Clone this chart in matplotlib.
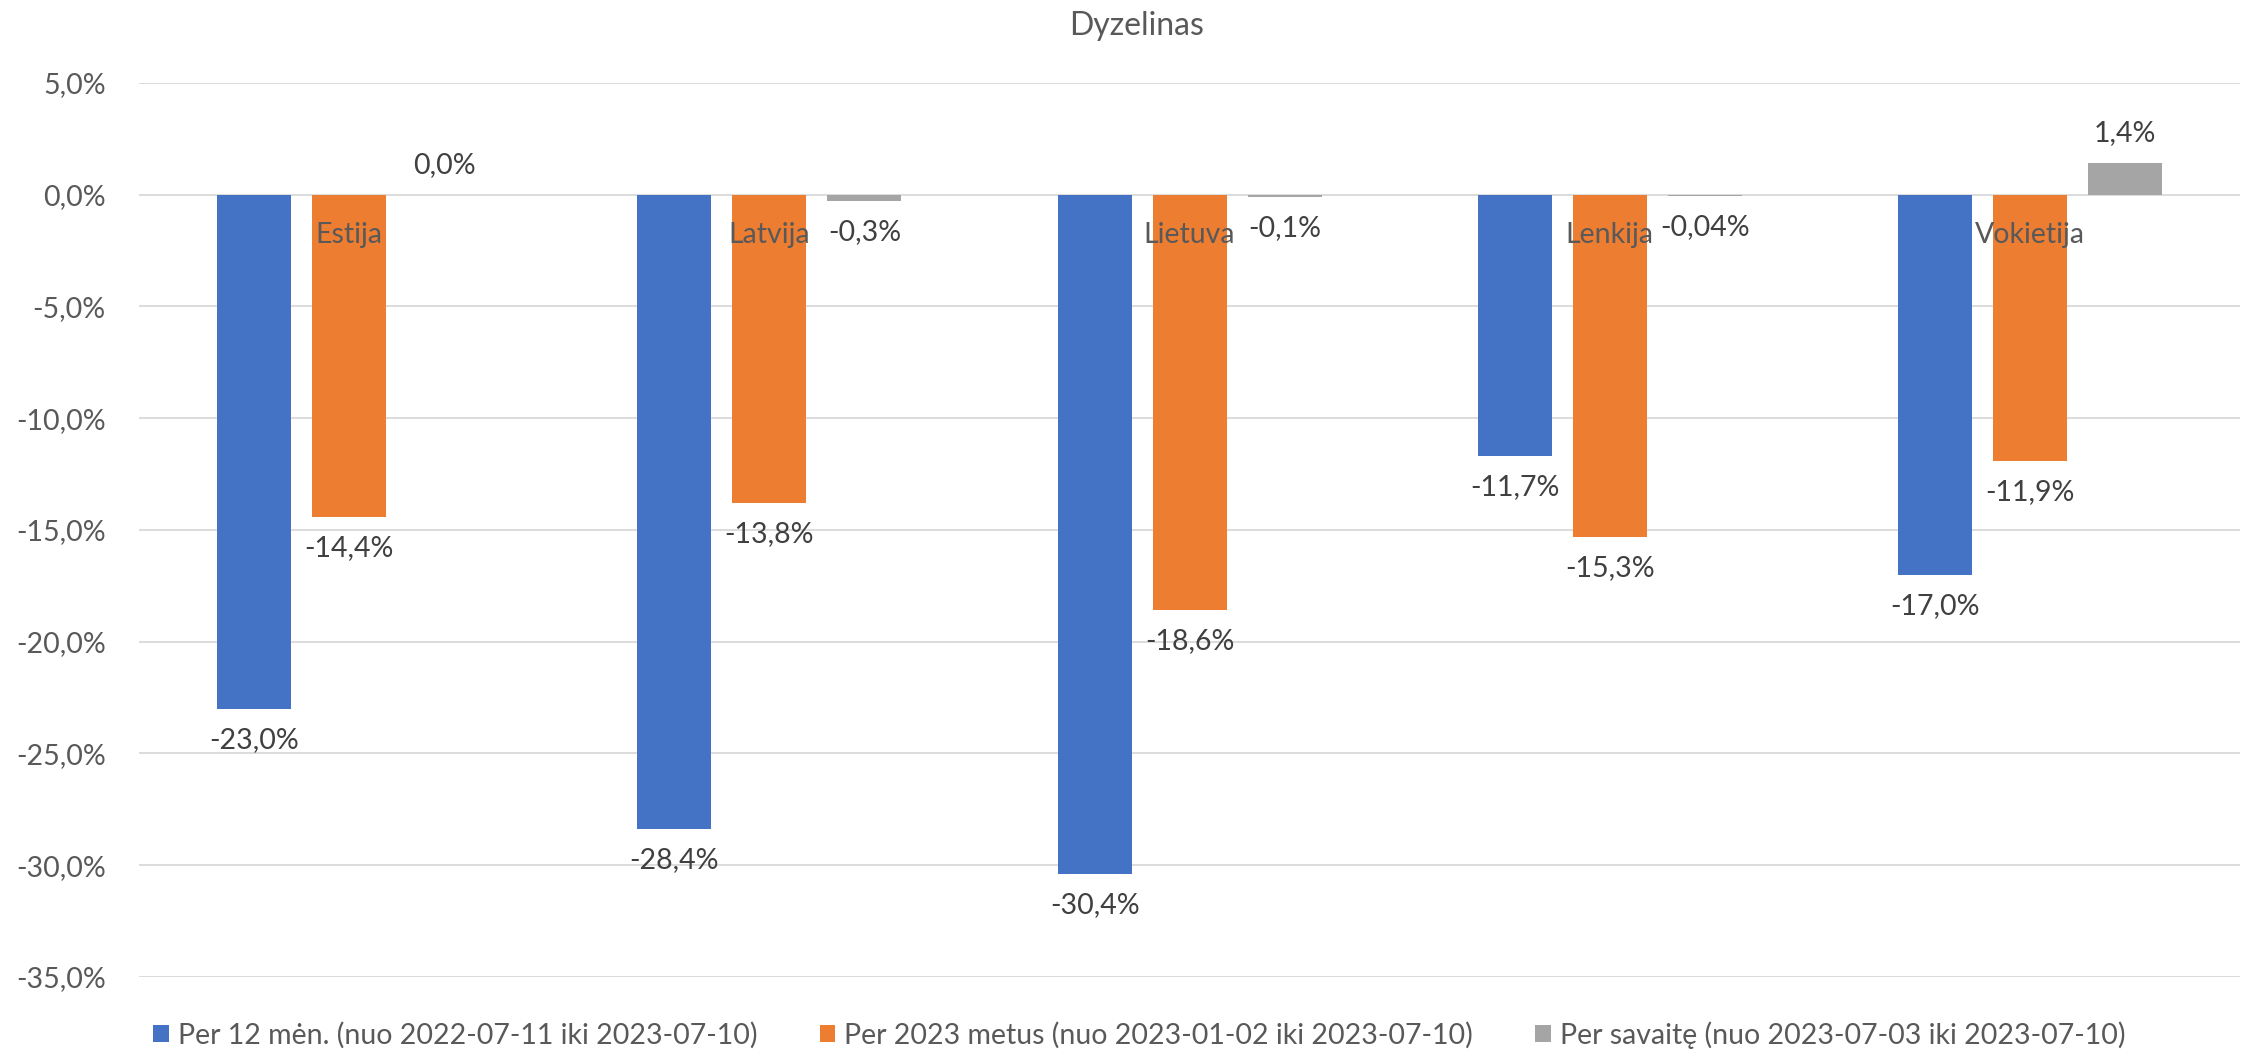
import numpy as np
import matplotlib
matplotlib.use("Agg")
import matplotlib.pyplot as plt
from matplotlib.ticker import FuncFormatter

# Data
salys = ["Estija", "Latvija", "Lietuva", "Lenkija", "Vokietija"]
per_12_men = [-23.0, -28.4, -30.4, -11.7, -17.0]
per_2023 = [-14.4, -13.8, -18.6, -15.3, -11.9]
per_savaite = [0.0, -0.3, -0.1, -0.04, 1.4]
serijos = [
    "Per 12 mėn. (nuo 2022-07-11 iki 2023-07-10)",
    "Per 2023 metus (nuo 2023-01-02 iki 2023-07-10)",
    "Per savaitę (nuo 2023-07-03 iki 2023-07-10)",
]
spalvos = ["#4472C4", "#ED7D31", "#A5A5A5"]
y_ticks = [5, 0, -5, -10, -15, -20, -25, -30, -35]

plt.rcParams['font.family'] = ['Lato', 'DejaVu Sans']

def pct(v, dec=1):
    return f"{v:.{dec}f}%".replace('.', ',')

fig = plt.figure(figsize=(22.47, 10.53), dpi=100)
ax = fig.add_axes([0.0619, 0.0722, 0.9350, 0.8490])

x = np.arange(len(salys))
w = 0.176
step = 0.226
for i, (vals, name, col) in enumerate(zip([per_12_men, per_2023, per_savaite], serijos, spalvos)):
    xs = x + (i - 1) * step
    ax.bar(xs, vals, width=w, color=col, label=name, zorder=3)
    for xi, v in zip(xs, vals):
        dec = 2 if 0 < abs(v) < 0.05 else 1
        off = 30 if v >= 0 else -31
        ax.annotate(pct(v, dec), (xi, v), xytext=(0, off * 0.72), textcoords='offset points',
                    ha='center', va='center', fontsize=20.5, color='#404040', zorder=5)

# category labels sit next to the zero line
for xi, s in zip(x, salys):
    ax.annotate(s, (xi, 0), xytext=(0, -40 * 0.72), textcoords='offset points',
                ha='center', va='center', fontsize=20.5, color='#595959', zorder=6)

ax.set_xlim(-0.5, len(salys) - 0.5)
ax.set_ylim(-35, 5)
ax.set_yticks(y_ticks)
ax.yaxis.set_major_formatter(FuncFormatter(lambda v, p: pct(v)))
ax.tick_params(axis='y', length=0, pad=24, labelsize=20.5, labelcolor='#595959')
ax.set_xticks([])
ax.grid(axis='y', color='#D9D9D9', linewidth=1.3, zorder=0)
for s in ax.spines.values():
    s.set_visible(False)

fig.suptitle("Dyzelinas", x=0.506, y=1 - 26 / 1053, va='center', fontsize=23, color='#595959')

fig.legend(loc='center', bbox_to_anchor=(0.507, 1 - 1035 / 1053), ncol=3, frameon=False,
           fontsize=20.5, labelcolor='#595959', handlelength=0.55, handleheight=0.55,
           handletextpad=0.3, columnspacing=2.2)

fig.savefig("out.png", dpi=100)
